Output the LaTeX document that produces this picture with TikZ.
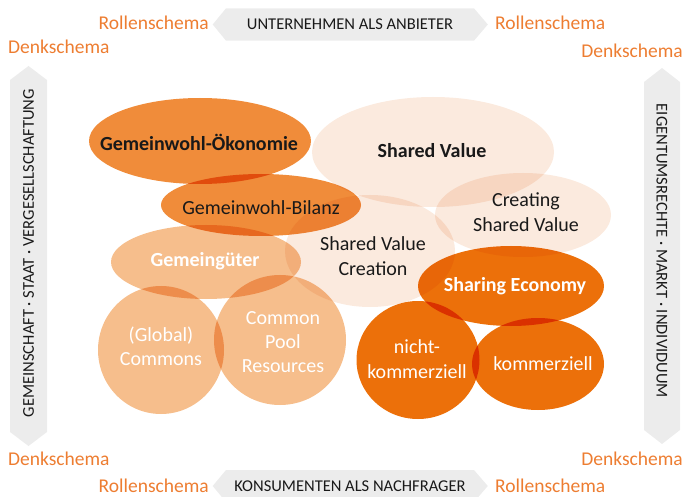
\documentclass[tikz,border=0pt]{standalone}
\usepackage{fontspec}
\setmainfont{Carlito}
\usetikzlibrary{shapes.geometric}

\definecolor{roleorange}{RGB}{237,125,49}
\definecolor{bannergray}{RGB}{236,236,236}
\definecolor{gwcol}{RGB}{240,140,58}
\definecolor{secol}{RGB}{236,112,10}
\definecolor{ggcol}{RGB}{246,190,140}
\definecolor{pecol}{RGB}{251,234,222}
\definecolor{inkdark}{RGB}{25,25,25}

\tikzset{
  blob/.style={ellipse, inner sep=0pt, draw=none},
  roletext/.style={text=roleorange, inner sep=0pt, font=\fontsize{19.5}{23}\selectfont},
  captext/.style={text=inkdark, inner sep=0pt, font=\fontsize{16.5}{20}\selectfont},
  blobtext/.style={inner sep=0pt, align=center, font=\fontsize{20}{24.4}\selectfont},
  blobbold/.style={inner sep=0pt, align=center, font=\fontsize{20}{24.4}\selectfont\bfseries},
}

\begin{document}
\begin{tikzpicture}[x=1pt,y=-1pt]
\useasboundingbox (0,0) rectangle (683,497);
\clip (0,0) rectangle (683,497);

% horizontal banners (top and bottom)
\fill[bannergray] (212.7,24.5) -- (226,8.3) -- (474,8.3) -- (487.8,24.5) -- (474,40.7) -- (226,40.7) -- cycle;
\fill[bannergray] (212.7,486) -- (226,470) -- (474,470) -- (487.8,486) -- (474,502) -- (226,502) -- cycle;
% vertical banners (left and right)
\fill[bannergray] (28.5,66) -- (47,80) -- (47,432) -- (28.5,446) -- (10,432) -- (10,80) -- cycle;
\fill[bannergray] (662,68) -- (680,82) -- (680,430) -- (662,444) -- (644,430) -- (644,82) -- cycle;

\node[captext] (topcap) at (350,24.5) {UNTERNEHMEN ALS ANBIETER};
\node[captext] (botcap) at (350,486) {KONSUMENTEN ALS NACHFRAGER};
\node[captext, rotate=90] (leftcap) at (28.5,253) {GEMEINSCHAFT · STAAT · VERGESELLSCHAFTUNG};
\node[captext, rotate=-90] (rightcap) at (662,251) {EIGENTUMSRECHTE · MARKT · INDIVIDUUM};

% role and thinking schema labels
\node[roletext, anchor=east] (rtl) at (209,23) {Rollenschema};
\node[roletext, anchor=west] (rtr) at (495,23) {Rollenschema};
\node[roletext, anchor=east] (rbl) at (209,486) {Rollenschema};
\node[roletext, anchor=west] (rbr) at (495,486) {Rollenschema};
\node[roletext, anchor=west] (dtl) at (8,47) {Denkschema};
\node[roletext, anchor=east] (dtr) at (683,51) {Denkschema};
\node[roletext, anchor=west] (dbl) at (8,459) {Denkschema};
\node[roletext, anchor=east] (dbr) at (683,459) {Denkschema};

% overlapping concept ellipses
\begin{scope}[blend mode=multiply]
\node[blob, fill=pecol, minimum width=242, minimum height=110] (sv) at (433,152) {};
\node[blob, fill=pecol, minimum width=176, minimum height=84] (csv) at (523,215) {};
\node[blob, fill=pecol, minimum width=170, minimum height=112] (svc) at (370,251) {};
\node[blob, fill=gwcol, minimum width=222, minimum height=86] (gwo) at (200,141) {};
\node[blob, fill=gwcol, minimum width=200, minimum height=62] (gwb) at (261,205) {};
\node[blob, fill=ggcol, minimum width=190, minimum height=74] (gg) at (206,262) {};
\node[blob, fill=ggcol, minimum width=126, minimum height=128] (glob) at (161,350) {};
\node[blob, fill=ggcol, minimum width=132, minimum height=130] (cpr) at (280,340) {};
\node[blob, fill=secol, minimum width=186, minimum height=80] (se) at (511,286) {};
\node[blob, fill=secol, minimum width=123, minimum height=118] (nk) at (418,360) {};
\node[blob, fill=secol, minimum width=132, minimum height=92] (kom) at (538,364) {};
\end{scope}

% ellipse labels
\node[blobbold, text=inkdark] (gwoL) at (199,142) {Gemeinwohl-Ökonomie};
\node[blobtext, text=inkdark] (gwbL) at (261,208) {Gemeinwohl-Bilanz};
\node[blobbold, text=inkdark] (svL) at (432,151) {Shared Value};
\node[blobtext, text=inkdark] (csvL) at (526,212) {Creating\\Shared Value};
\node[blobtext, text=inkdark] (svcL) at (373,256) {Shared Value\\Creation};
\node[blobbold, text=white] (ggL) at (205,261) {Gemeingüter};
\node[blobtext, text=white] (globL) at (161,346) {(Global)\\Commons};
\node[blobtext, text=white] (cprL) at (283,342) {Common\\Pool\\Resources};
\node[blobbold, text=white] (seL) at (515,286) {Sharing Economy};
\node[blobtext, text=white] (nkL) at (417,359) {nicht-\\kommerziell};
\node[blobtext, text=white] (komL) at (543,364) {kommerziell};
\end{tikzpicture}
\end{document}
